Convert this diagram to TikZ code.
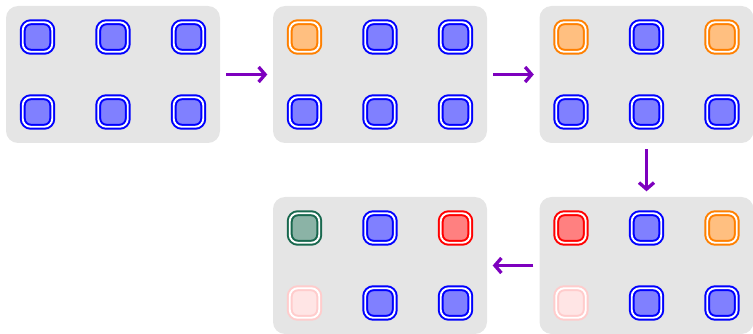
\documentclass[tikz,border=0pt]{standalone}
\usetikzlibrary{arrows.meta,calc}
\definecolor{flowpurple}{RGB}{125,0,190}
\definecolor{deepgreen}{RGB}{24,104,78}
\tikzset{
  panel/.style={fill=gray!20, rounded corners=12pt, minimum width=214pt,
    minimum height=137pt, inner sep=0pt},
  cell/.style={minimum size=29.5pt, inner sep=0pt, rounded corners=8pt,
    line width=2pt, double=white, double distance=1.9pt},
  cb/.style={draw=blue, fill=blue!50},
  co/.style={draw=orange, fill=orange!50},
  cr/.style={draw=red, fill=red!50},
  cg/.style={draw=deepgreen, fill=deepgreen!50},
  cf/.style={draw=red!20, fill=red!10},
  flow/.style={draw=flowpurple, line width=3.3pt,
    -{Straight Barb[length=6.5pt,width=15pt,line width=3.3pt]},
    shorten <=6pt, shorten >=5.5pt},
}
\begin{document}
\begin{tikzpicture}[x=1pt,y=-1pt]
\useasboundingbox (0,0) rectangle (753,334);
% five board states, each a 2x3 grid of cells
\foreach \p/\cx/\cy/\styles in {
  s1/113/74.5/{cb,cb,cb,cb,cb,cb},
  s2/380/74.5/{co,cb,cb,cb,cb,cb},
  s3/646.5/74.5/{co,cb,co,cb,cb,cb},
  s4/646.5/265.5/{cr,cb,co,cf,cb,cb},
  s5/380/265.5/{cg,cb,cr,cf,cb,cb}}
{
  \node[panel] (\p) at (\cx,\cy) {};
  \foreach \s [count=\i from 0] in \styles {
    \pgfmathtruncatemacro\col{mod(\i,3)}
    \pgfmathtruncatemacro\row{div(\i,3)}
    \node[cell,\s] (\p-\i) at ($(\p)+(\col*75.5-75.5,\row*75-37.5)$) {};
  }
}
% transitions between states
\draw[flow] (s1.east) -- (s2.west);
\draw[flow] (s2.east) -- (s3.west);
\draw[flow] (s3.south) -- (s4.north);
\draw[flow] (s4.west) -- (s5.east);
\end{tikzpicture}
\end{document}
